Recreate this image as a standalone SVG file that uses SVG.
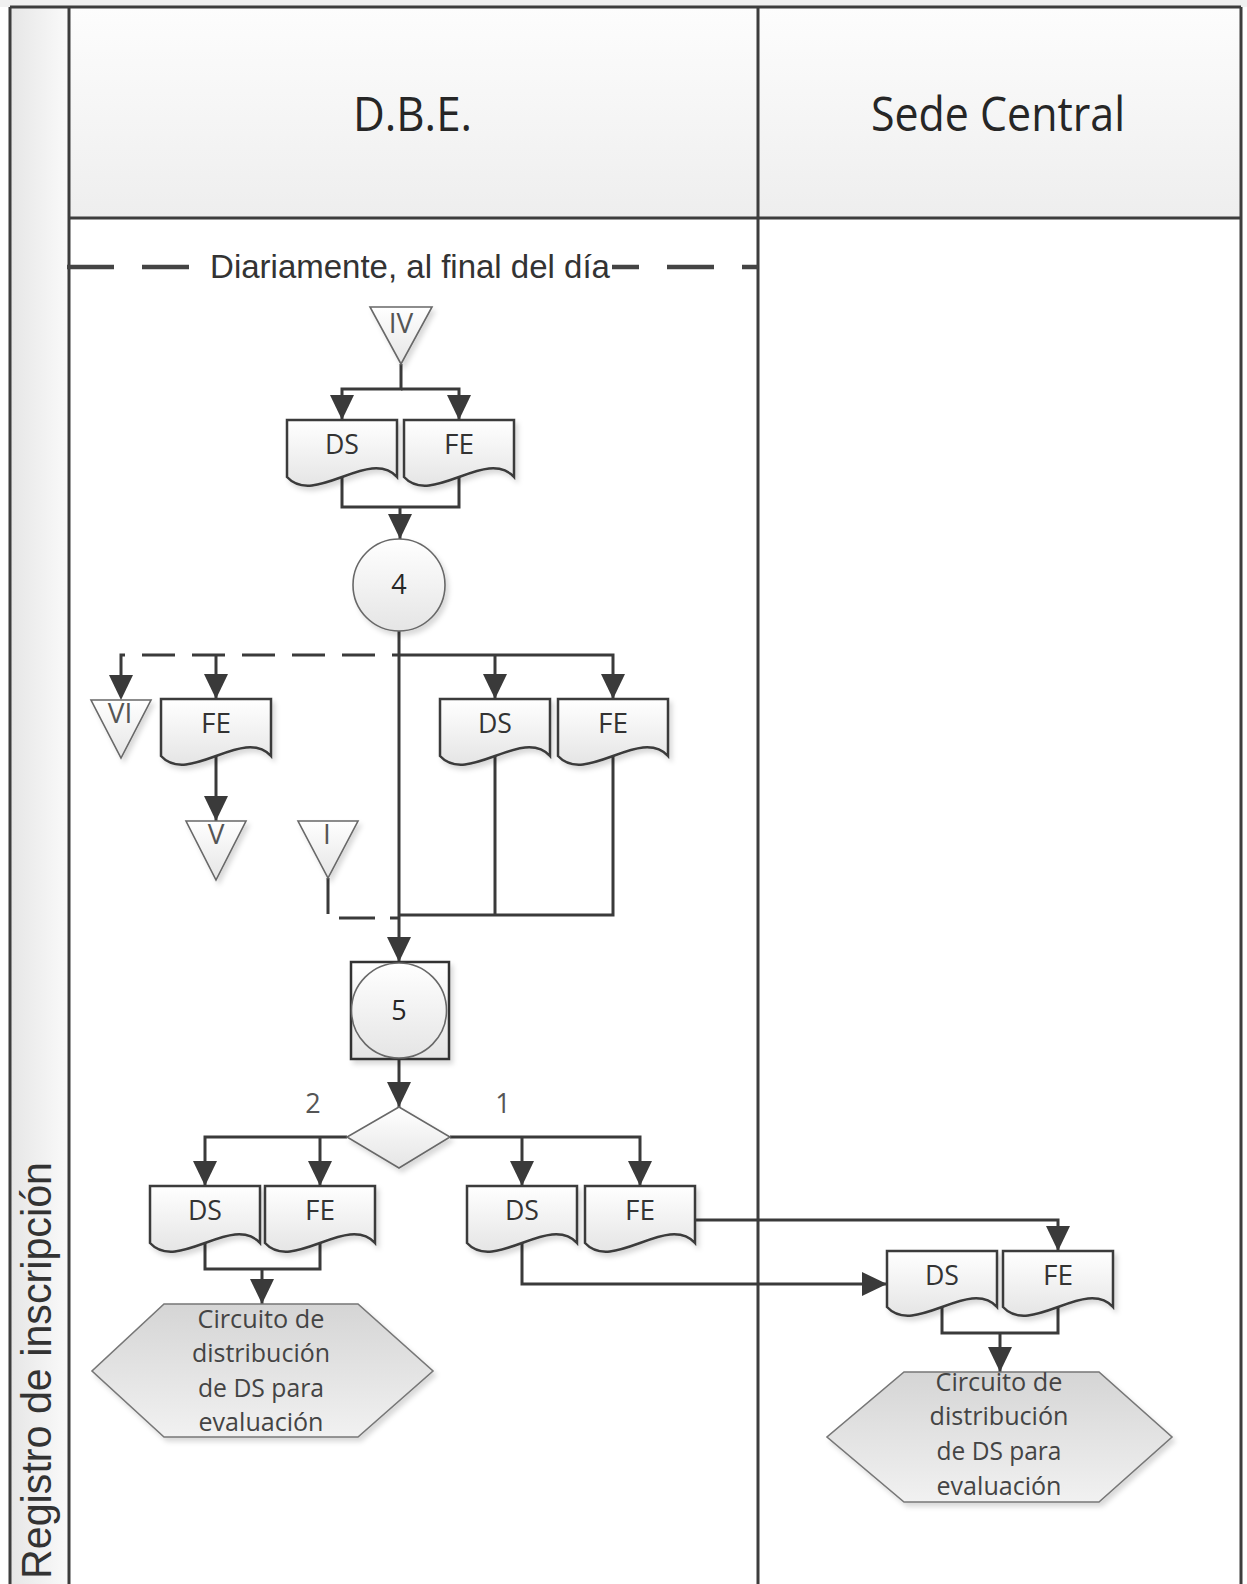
<svg xmlns="http://www.w3.org/2000/svg" width="1247" height="1584" viewBox="0 0 1247 1584">
<style>
.frame{fill:none;stroke:#3d3d3d;stroke-width:3}
.ln{fill:none;stroke:#3a3a3a;stroke-width:3}
.dash{stroke-dasharray:33 17}
.doc{fill:url(#gShape);stroke:#3a3a3a;stroke-width:2.5;filter:url(#sh)}
.thin{fill:url(#gShape);stroke:#686868;stroke-width:1.6;filter:url(#sh)}
.box{fill:url(#gShape);stroke:#333;stroke-width:2.5;filter:url(#sh)}
.hex{fill:url(#gHex);stroke:#777;stroke-width:1.6;filter:url(#sh)}
.t{font-family:'Open Sans','Noto Sans',sans-serif;text-anchor:middle;fill:#333}
.doct{font-size:28px}
.tri{font-size:28px;fill:#555}
.num{font-size:27px;fill:#262626}
.hext{font-size:26px;fill:#444}
</style>
<defs>
<linearGradient id="gShape" x1="0" y1="0" x2="0" y2="1"><stop offset="0" stop-color="#ffffff"/><stop offset="1" stop-color="#e5e5e5"/></linearGradient>
<linearGradient id="gHex" x1="0" y1="0" x2="0" y2="1"><stop offset="0" stop-color="#d5d5d5"/><stop offset="1" stop-color="#f1f1f1"/></linearGradient>
<linearGradient id="gHead" x1="0" y1="0" x2="0" y2="1"><stop offset="0" stop-color="#fdfdfd"/><stop offset="1" stop-color="#eeeeee"/></linearGradient>
<linearGradient id="gSide" x1="0" y1="0" x2="1" y2="0"><stop offset="0" stop-color="#e6e6e6"/><stop offset="1" stop-color="#fafafa"/></linearGradient>
<filter id="sh" x="-15%" y="-15%" width="135%" height="140%"><feDropShadow dx="3" dy="4" stdDeviation="2.5" flood-color="#000" flood-opacity="0.15"/></filter>
<marker id="ar" markerUnits="userSpaceOnUse" markerWidth="26" markerHeight="24" viewBox="0 0 26 24" refX="25" refY="12" orient="auto"><path d="M0,0 L25,12 L0,24 Z" fill="#3a3a3a"/></marker>
</defs>

<g id="pool">
<rect x="0" y="0" width="1247" height="7" fill="#f0f0f0"/>
<rect x="10" y="7" width="59" height="1577" fill="url(#gSide)"/>
<rect x="69" y="7" width="1172" height="211" fill="url(#gHead)"/>
<path class="frame" d="M10,7 H1241 M10,7 V1584 M69,7 V1584 M69,218 H1241 M758,7 V1584 M1241,7 V1584"/>
<text transform="translate(51,1579) rotate(-90)" font-family="'Liberation Sans',Arial,sans-serif" font-size="42" fill="#333" textLength="417" lengthAdjust="spacingAndGlyphs">Registro de inscripción</text>
<text x="353" y="131" font-family="'Open Sans','Noto Sans',sans-serif" font-size="48" fill="#262626" textLength="119" lengthAdjust="spacingAndGlyphs">D.B.E.</text>
<text x="871" y="131" font-family="'Open Sans','Noto Sans',sans-serif" font-size="48" fill="#262626" textLength="254" lengthAdjust="spacingAndGlyphs">Sede Central</text>
</g>

<g id="separator">
<path d="M67,267 H758" fill="none" stroke="#444" stroke-width="4.5" stroke-dasharray="47 28"/>
<rect x="197" y="250" width="415" height="34" fill="#fff"/>
<text x="410" y="278" font-family="'Liberation Sans',Arial,sans-serif" font-size="33" fill="#333" text-anchor="middle">Diariamente, al final del día</text>
</g>

<g id="connectors">
<path class="ln" d="M401,364 V389 H342 V420" marker-end="url(#ar)"/>
<path class="ln" d="M401,389 H459 V420" marker-end="url(#ar)"/>
<path class="ln" d="M342,477 V507 H459 V477"/>
<path class="ln" d="M400,507 V539" marker-end="url(#ar)"/>
<path class="ln" d="M399,631 V962" marker-end="url(#ar)"/>
<path class="ln" d="M399,655 H613 V699" marker-end="url(#ar)"/>
<path class="ln" d="M495,655 V699" marker-end="url(#ar)"/>
<path class="ln dash" stroke-dashoffset="26" d="M399,655 H121 V700" marker-end="url(#ar)"/>
<path class="ln" d="M216,655 V699" marker-end="url(#ar)"/>
<path class="ln" d="M216,756 V821" marker-end="url(#ar)"/>
<path class="ln" stroke-dasharray="36 15" d="M328,878 V918 H399"/>
<path class="ln" d="M613,756 V915 H399"/>
<path class="ln" d="M495,756 V915"/>
<path class="ln" d="M399,1059 V1107" marker-end="url(#ar)"/>
<path class="ln" d="M347,1137 H205 V1186" marker-end="url(#ar)"/>
<path class="ln" d="M320,1137 V1186" marker-end="url(#ar)"/>
<path class="ln" d="M450,1137 H640 V1186" marker-end="url(#ar)"/>
<path class="ln" d="M522,1137 V1186" marker-end="url(#ar)"/>
<path class="ln" d="M205,1243 V1269 H320 V1243"/>
<path class="ln" d="M262,1269 V1304" marker-end="url(#ar)"/>
<path class="ln" d="M522,1243 V1284 H887" marker-end="url(#ar)"/>
<path class="ln" d="M695,1220 H1058 V1251" marker-end="url(#ar)"/>
<path class="ln" d="M942,1307 V1333 H1058 V1307"/>
<path class="ln" d="M1000,1333 V1372" marker-end="url(#ar)"/>
</g>

<g id="offpage-IV"><polygon class="thin" points="370,307 432,307 401,364"/><text class="t tri" x="401" y="333">IV</text></g>
<g id="doc-DS-1"><path class="doc" d="M287,420 H397 V477 C369.5,447 314.5,507 287,477 Z"/><text class="t doct" x="342" y="454" textLength="34" lengthAdjust="spacingAndGlyphs">DS</text></g>
<g id="doc-FE-1"><path class="doc" d="M404,420 H514 V477 C486.5,447 431.5,507 404,477 Z"/><text class="t doct" x="459" y="454" textLength="30" lengthAdjust="spacingAndGlyphs">FE</text></g>
<g id="proc-4"><circle class="thin" cx="399" cy="585" r="46"/><text class="t num" x="399" y="594">4</text></g>
<g id="offpage-VI"><polygon class="thin" points="91,700 151,700 121,758"/><text class="t tri" x="120" y="723">VI</text></g>
<g id="doc-FE-2"><path class="doc" d="M161,699 H271 V756 C243.5,726 188.5,786 161,756 Z"/><text class="t doct" x="216" y="733" textLength="30" lengthAdjust="spacingAndGlyphs">FE</text></g>
<g id="doc-DS-2"><path class="doc" d="M440,699 H550 V756 C522.5,726 467.5,786 440,756 Z"/><text class="t doct" x="495" y="733" textLength="34" lengthAdjust="spacingAndGlyphs">DS</text></g>
<g id="doc-FE-3"><path class="doc" d="M558,699 H668 V756 C640.5,726 585.5,786 558,756 Z"/><text class="t doct" x="613" y="733" textLength="30" lengthAdjust="spacingAndGlyphs">FE</text></g>
<g id="offpage-V"><polygon class="thin" points="186,821 246,821 216,880"/><text class="t tri" x="216" y="844">V</text></g>
<g id="offpage-I"><polygon class="thin" points="298,821 358,821 328,878"/><text class="t tri" x="327" y="844">I</text></g>
<g id="proc-5"><rect class="box" x="351" y="962" width="98" height="97"/><circle cx="399" cy="1010.5" r="47.5" fill="url(#gShape)" stroke="#686868" stroke-width="1.6"/><text class="t num" x="399" y="1020">5</text></g>
<g id="decision"><polygon class="thin" points="399,1107 450,1137 399,1168 347,1137"/><text class="t num" x="313" y="1113" style="fill:#555">2</text><text class="t num" x="503" y="1113" style="fill:#555">1</text></g>
<g id="doc-DS-3"><path class="doc" d="M150,1186 H260 V1243 C232.5,1213 177.5,1273 150,1243 Z"/><text class="t doct" x="205" y="1220" textLength="34" lengthAdjust="spacingAndGlyphs">DS</text></g>
<g id="doc-FE-4"><path class="doc" d="M265,1186 H375 V1243 C347.5,1213 292.5,1273 265,1243 Z"/><text class="t doct" x="320" y="1220" textLength="30" lengthAdjust="spacingAndGlyphs">FE</text></g>
<g id="doc-DS-4"><path class="doc" d="M467,1186 H577 V1243 C549.5,1213 494.5,1273 467,1243 Z"/><text class="t doct" x="522" y="1220" textLength="34" lengthAdjust="spacingAndGlyphs">DS</text></g>
<g id="doc-FE-5"><path class="doc" d="M585,1186 H695 V1243 C667.5,1213 612.5,1273 585,1243 Z"/><text class="t doct" x="640" y="1220" textLength="30" lengthAdjust="spacingAndGlyphs">FE</text></g>
<g id="doc-DS-5"><path class="doc" d="M887,1251 H997 V1307 C969.5,1277 914.5,1337 887,1307 Z"/><text class="t doct" x="942" y="1285" textLength="34" lengthAdjust="spacingAndGlyphs">DS</text></g>
<g id="doc-FE-6"><path class="doc" d="M1003,1251 H1113 V1307 C1085.5,1277 1030.5,1337 1003,1307 Z"/><text class="t doct" x="1058" y="1285" textLength="30" lengthAdjust="spacingAndGlyphs">FE</text></g>
<g id="circuit-1"><polygon class="hex" points="164,1304 358,1304 433,1371 358,1437 164,1437 92,1371"/>
<text class="t hext" x="261" y="1328" textLength="127" lengthAdjust="spacingAndGlyphs">Circuito de</text>
<text class="t hext" x="261" y="1362" textLength="138" lengthAdjust="spacingAndGlyphs">distribución</text>
<text class="t hext" x="261" y="1397" textLength="126" lengthAdjust="spacingAndGlyphs">de DS para</text>
<text class="t hext" x="261" y="1431" textLength="125" lengthAdjust="spacingAndGlyphs">evaluación</text></g>
<g id="circuit-2"><polygon class="hex" points="904,1372 1099,1372 1172,1437 1099,1502 904,1502 827,1437"/>
<text class="t hext" x="999" y="1391" textLength="127" lengthAdjust="spacingAndGlyphs">Circuito de</text>
<text class="t hext" x="999" y="1425" textLength="139" lengthAdjust="spacingAndGlyphs">distribución</text>
<text class="t hext" x="999" y="1460" textLength="125" lengthAdjust="spacingAndGlyphs">de DS para</text>
<text class="t hext" x="999" y="1495" textLength="125" lengthAdjust="spacingAndGlyphs">evaluación</text></g>
</svg>
